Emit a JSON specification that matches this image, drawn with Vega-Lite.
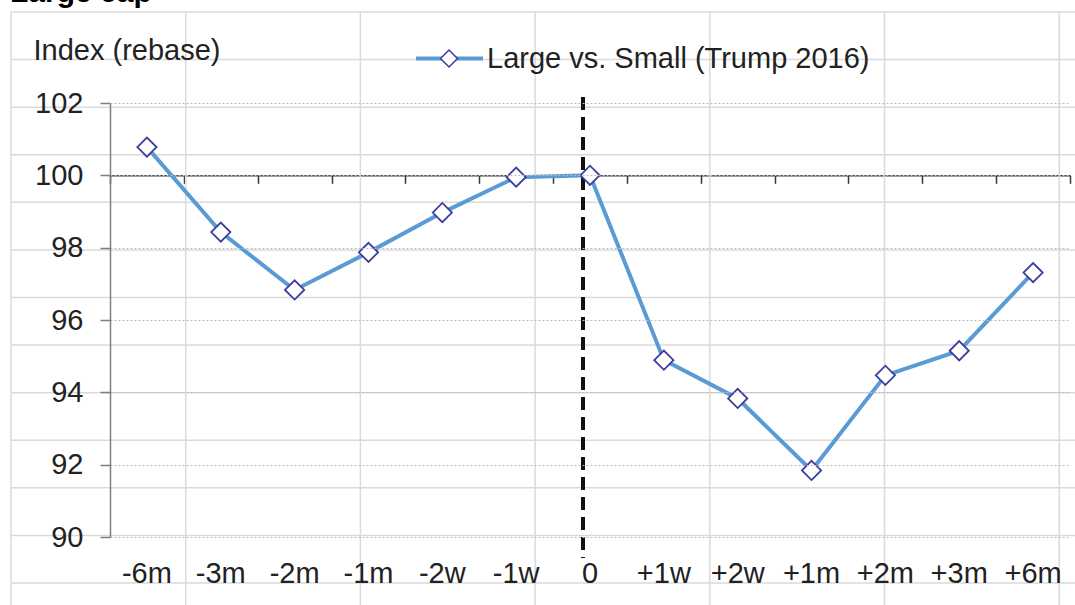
{
  "$schema": "https://vega.github.io/schema/vega-lite/v6.json",
  "width": 960,
  "height": 434,
  "autosize": {"type": "none"},
  "padding": {"left": 110, "top": 103, "right": 5, "bottom": 68},
  "background": "white",
  "config": {"view": {"stroke": null}, "font": "Liberation Sans"},
  "title": {
    "text": "Large cap",
    "anchor": "start",
    "frame": "group",
    "orient": "top",
    "fontSize": 30,
    "fontWeight": "bold",
    "color": "#000000",
    "baseline": "bottom",
    "offset": -27,
    "dx": -100
  },
  "layer": [
    {
      "layer": [
        {
          "data": {"values": [{"row": 0}, {"row": 1}, {"row": 2}, {"row": 3}, {"row": 4}, {"row": 5}, {"row": 6}, {"row": 7}, {"row": 8}, {"row": 9}, {"row": 10}, {"row": 11}, {"row": 12}]},
          "mark": {"type": "rule", "color": "#dadada", "strokeWidth": 1.5, "clip": false},
          "encoding": {
            "y": {"field": "row", "type": "quantitative", "scale": {"domain": [1.9126, 11.034], "reverse": true, "nice": false, "zero": false}, "axis": null},
            "x": {"datum": 0, "type": "quantitative", "scale": {"domain": [0.5667, 6.0618], "nice": false, "zero": false}, "axis": null},
            "x2": {"datum": 6.3}
          }
        },
        {
          "data": {"values": [{"col": 0}, {"col": 1}, {"col": 2}, {"col": 3}, {"col": 4}, {"col": 5}, {"col": 6}]},
          "mark": {"type": "rule", "color": "#dadada", "strokeWidth": 1.5, "clip": false},
          "encoding": {
            "x": {"field": "col", "type": "quantitative", "axis": null},
            "y": {"datum": 0, "type": "quantitative", "axis": null},
            "y2": {"datum": 12.6}
          }
        }
      ]
    },
    {
      "data": {
        "values": [
          {"period": "-6m", "value": 100.78, "series": "Large vs. Small (Trump 2016)"},
          {"period": "-3m", "value": 98.43, "series": "Large vs. Small (Trump 2016)"},
          {"period": "-2m", "value": 96.83, "series": "Large vs. Small (Trump 2016)"},
          {"period": "-1m", "value": 97.87, "series": "Large vs. Small (Trump 2016)"},
          {"period": "-2w", "value": 98.97, "series": "Large vs. Small (Trump 2016)"},
          {"period": "-1w", "value": 99.95, "series": "Large vs. Small (Trump 2016)"},
          {"period": "0", "value": 100.0, "series": "Large vs. Small (Trump 2016)"},
          {"period": "+1w", "value": 94.89, "series": "Large vs. Small (Trump 2016)"},
          {"period": "+2w", "value": 93.83, "series": "Large vs. Small (Trump 2016)"},
          {"period": "+1m", "value": 91.84, "series": "Large vs. Small (Trump 2016)"},
          {"period": "+2m", "value": 94.47, "series": "Large vs. Small (Trump 2016)"},
          {"period": "+3m", "value": 95.15, "series": "Large vs. Small (Trump 2016)"},
          {"period": "+6m", "value": 97.31, "series": "Large vs. Small (Trump 2016)"}
        ]
      },
      "resolve": {"axis": {"x": "independent"}},
      "layer": [
        {
          "mark": {"type": "rule", "strokeDash": [12, 8], "strokeWidth": 3, "color": "#111111", "xOffset": -7, "clip": false},
          "encoding": {
            "x": {"datum": "0", "type": "nominal", "axis": null},
            "y": {"datum": 102.15, "type": "quantitative"},
            "y2": {"datum": 89.42}
          }
        },
        {
          "mark": {"type": "line", "strokeWidth": 4},
          "encoding": {
            "x": {
              "field": "period",
              "type": "nominal",
              "scale": {"type": "band", "domain": ["-6m", "-3m", "-2m", "-1m", "-2w", "-1w", "0", "+1w", "+2w", "+1m", "+2m", "+3m", "+6m"], "paddingInner": 0, "paddingOuter": 0},
              "axis": {
                "orient": "bottom",
                "zindex": 1,
                "title": null,
                "domain": false,
                "ticks": false,
                "tickSize": 0,
                "grid": false,
                "labelAngle": 0,
                "labelFontSize": 29,
                "labelColor": "#222222",
                "labelPadding": 36,
                "labelBaseline": "middle"
              }
            },
            "y": {
              "field": "value",
              "type": "quantitative",
              "scale": {"domain": [90, 102], "nice": false, "zero": false},
              "axis": {
                "zindex": 1,
                "values": [90, 92, 94, 96, 98, 100, 102],
                "title": "Index (rebase)",
                "titleAngle": 0,
                "titleAlign": "left",
                "titleBaseline": "middle",
                "titleX": -77,
                "titleY": -53,
                "titleFontSize": 29,
                "titleFontWeight": "normal",
                "titleColor": "#222222",
                "labelFontSize": 29,
                "labelColor": "#222222",
                "labelPadding": 17,
                "tickSize": 10,
                "tickColor": "#7f7f7f",
                "tickWidth": 1.5,
                "domainColor": "#7f7f7f",
                "domainWidth": 1.5,
                "grid": true,
                "gridColor": "#bdbdbd",
                "gridDash": [2, 2],
                "gridWidth": 1
              }
            },
            "stroke": {
              "field": "series",
              "type": "nominal",
              "scale": {"range": ["#5b9bd5"]},
              "legend": {
                "orient": "none",
                "legendX": 304,
                "legendY": -80,
                "title": null,
                "padding": 0,
                "symbolType": "stroke",
                "symbolSize": 4489,
                "symbolStrokeWidth": 4,
                "labelFontSize": 29,
                "labelColor": "#222222",
                "labelOffset": 2,
                "labelLimit": 600
              }
            }
          }
        },
        {
          "mark": {"type": "point", "filled": true, "fill": "white", "stroke": "#3d3d9e", "strokeWidth": 1.8, "size": 370, "opacity": 1},
          "encoding": {
            "x": {
              "field": "period",
              "type": "nominal",
              "axis": {
                "orient": "bottom",
                "offset": -361.67,
                "title": null,
                "labels": false,
                "domain": true,
                "domainColor": "#3a3a3a",
                "domainWidth": 1.5,
                "ticks": true,
                "tickBand": "extent",
                "tickSize": 8,
                "tickColor": "#3a3a3a",
                "tickWidth": 1.5,
                "grid": false
              }
            },
            "y": {"field": "value", "type": "quantitative"},
            "shape": {
              "datum": "Large vs. Small (Trump 2016)",
              "scale": {"range": ["diamond"]},
              "legend": {
                "orient": "none",
                "legendX": 329.5,
                "legendY": -54,
                "title": null,
                "padding": 0,
                "labelExpr": "''",
                "symbolSize": 289,
                "encode": {
                  "symbols": {
                    "fill": {"value": "white"},
                    "stroke": {"value": "#3d3d9e"},
                    "strokeWidth": {"value": 1.6},
                    "opacity": {"value": 1},
                    "size": {"value": 289}
                  }
                }
              }
            }
          }
        }
      ]
    }
  ],
  "resolve": {"scale": {"x": "independent", "y": "independent"}}
}
